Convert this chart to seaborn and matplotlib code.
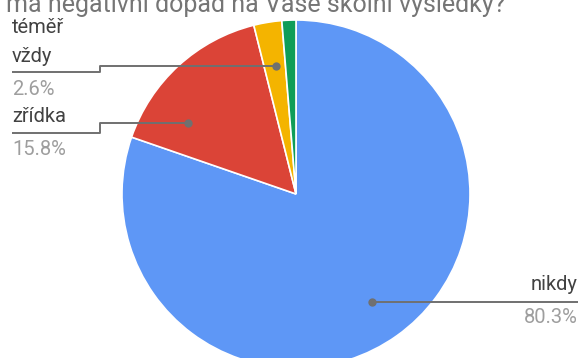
import matplotlib
matplotlib.use("Agg")
import matplotlib.pyplot as plt
import seaborn as sns
import numpy as np

# --- DATA ---
categories = ["nikdy", "zřídka", "téměř vždy", "často"]
shares = [80.3, 15.8, 2.6, 1.3]
slice_colors = ["#5e97f6", "#db4437", "#f4b400", "#0f9d58"]
title_text = "má negativní dopad na Vaše školní výsledky?"

sns.set_theme(style="white")
plt.rcParams["font.family"] = ["Roboto", "DejaVu Sans"]

W, H = 584, 358
fig = plt.figure(figsize=(W / 100, H / 100), dpi=100)
ax = fig.add_axes([0, 0, 1, 1])

# pie geometry in pixel units (y up)
cx, cy, r = 296, H - 194, 174
palette = sns.color_palette(slice_colors)
ax.pie(shares, colors=palette, startangle=90, counterclock=False,
       center=(cx, cy), radius=r, frame=True,
       wedgeprops=dict(edgecolor="white", linewidth=1.2))
ax.set_xlim(0, W)
ax.set_ylim(0, H)
ax.set_aspect("equal")
ax.axis("off")

name_col = "#424242"
pct_col = "#9e9e9e"
line_col = "#707070"
fs = 14.5

def Y(y):
    return H - y

def leader(points, dot):
    xs = [p[0] for p in points]
    ys = [Y(p[1]) for p in points]
    ax.plot(xs, ys, color=line_col, lw=1.4, solid_capstyle="butt")
    ax.plot(dot[0], Y(dot[1]), "o", color=line_col, ms=6, mec="none")

# téměř vždy
ax.text(12, Y(33), "téměř", color=name_col, fontsize=fs, va="baseline")
ax.text(12, Y(62), "vždy", color=name_col, fontsize=fs, va="baseline")
leader([(12, 72), (100, 72), (100, 66), (276, 66)], (276, 66))
ax.text(12, Y(95), f"{shares[2]}%", color=pct_col, fontsize=fs, va="baseline")

# zřídka
ax.text(12, Y(122), categories[1], color=name_col, fontsize=fs, va="baseline")
leader([(12, 133), (100, 133), (100, 123), (188, 123)], (188, 123))
ax.text(12, Y(155), f"{shares[1]}%", color=pct_col, fontsize=fs, va="baseline")

# nikdy
ax.text(578, Y(290), categories[0], color=name_col, fontsize=fs, va="baseline", ha="right")
leader([(372, 302), (578, 302)], (372, 302))
ax.text(578, Y(323), f"{shares[0]}%", color=pct_col, fontsize=fs, va="baseline", ha="right")

# title, cut off at the top like the source
ax.text(6, Y(12), title_text, color="#757575", fontsize=18, va="baseline", ha="left")

fig.savefig("out.png", dpi=100)
